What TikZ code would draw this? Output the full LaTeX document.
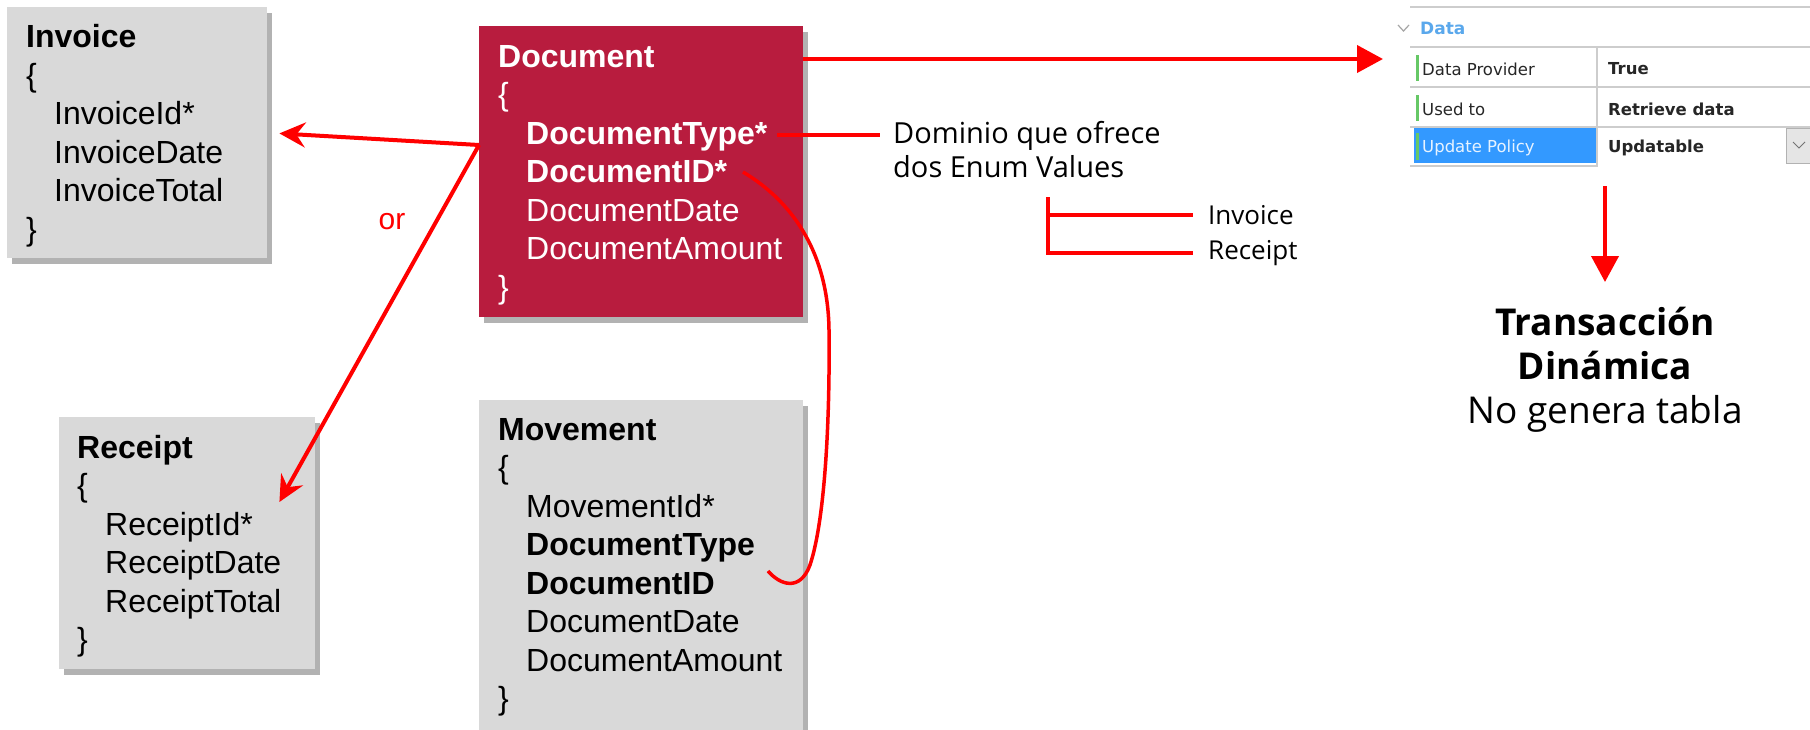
\documentclass[tikz,border=0pt]{standalone}
\usepackage{fontspec}
\setmainfont{Liberation Sans}
\newfontfamily\notefont{Open Sans}
\newfontfamily\gridfont{DejaVu Sans}
\usepackage{tikz}
\usetikzlibrary{arrows.meta,positioning,shadows}
\definecolor{DocRed}{RGB}{184,28,62}
\definecolor{BoxGray}{RGB}{217,217,217}
\definecolor{ArrowRed}{RGB}{255,0,0}
\definecolor{GridLine}{RGB}{205,205,205}
\definecolor{GridBlue}{RGB}{51,153,255}
\definecolor{DataBlue}{RGB}{90,168,236}
\definecolor{FlagGreen}{RGB}{102,200,102}
\newcommand{\attr}{\hspace*{28pt}}

\begin{document}
\begin{tikzpicture}[
    x=1pt, y=-1pt,
    entity/.style={anchor=north west, inner sep=0pt, fill=BoxGray, drop shadow={shadow xshift=5pt, shadow yshift=-6pt, fill=black, opacity=0.3}},
    fields/.style={inner sep=0pt, align=left, font=\fontsize{32}{38.5}\selectfont},
    arrow/.style={-{Stealth[length=26pt, width=25pt, inset=9pt]}, line width=4pt, ArrowRed},
    tri/.style={-{Triangle[length=26pt, width=27pt]}, line width=4pt, ArrowRed},
    redline/.style={line width=4pt, ArrowRed},
    note/.style={inner sep=0pt, align=left, font=\notefont\fontsize{29}{34}\selectfont},
    cell/.style={anchor=west, inner sep=0pt, text=black!85, font=\gridfont\fontsize{16.5}{20}\selectfont},
    val/.style={cell, font=\gridfont\bfseries\fontsize{16.5}{20}\selectfont},
    grid/.style={GridLine, line width=1.8pt}
]
    \path[use as bounding box, fill=white] (0,0) rectangle (1810,729);

    % transactions
    \node[entity, minimum width=260pt, minimum height=251pt] (inv) at (7,7) {};
    \node[entity, fill=DocRed, minimum width=324pt, minimum height=291pt] (doc) at (479,26) {};
    \node[entity, minimum width=256pt, minimum height=252pt] (rec) at (59,417) {};
    \node[entity, minimum width=324pt, minimum height=345pt] (mov) at (479,400) {};

    \node[fields, below right=13.5pt and 19pt of inv.north west] (invtxt)
        {\strut\textbf{Invoice}\\\{\\\attr InvoiceId*\\\attr InvoiceDate\\\attr InvoiceTotal\\\}};
    \node[fields, text=white, below right=14pt and 19pt of doc.north west] (doctxt)
        {\strut\textbf{Document}\\\{\\\attr\textbf{DocumentType*}\\\attr\textbf{DocumentID*}\\\attr DocumentDate\\\attr DocumentAmount\\\}};
    \node[fields, below right=14pt and 18pt of rec.north west] (rectxt)
        {\strut\textbf{Receipt}\\\{\\\attr ReceiptId*\\\attr ReceiptDate\\\attr ReceiptTotal\\\}};
    \node[fields, below right=13pt and 19pt of mov.north west] (movtxt)
        {\strut\textbf{Movement}\\\{\\\attr MovementId*\\\attr\textbf{DocumentType}\\\attr\textbf{DocumentID}\\\attr DocumentDate\\\attr DocumentAmount\\\}};

    % subtypes
    \coordinate[below=119pt of doc.north west] (fork);
    \coordinate[below left=85pt and 36pt of rec.north east] (rectip);
    \draw[arrow, shorten >=12pt] (fork) -- (inv.east);
    \draw[arrow] (fork) -- (rectip);
    \node[text=ArrowRed, font=\fontsize{30}{36}\selectfont] (orlbl) at (392,222) {or};

    % domain note
    \node[note, anchor=north west] (dom) at (893,119) {\strut Dominio que ofrece\\dos Enum Values};
    \coordinate (dtype) at (777,135);
    \draw[redline, shorten >=13pt] (dtype) -- (dtype -| dom.west);
    \node[note, anchor=west, font=\notefont\fontsize{26}{30}\selectfont] (enuminv) at (1208,215) {Invoice};
    \node[note, anchor=west, font=\notefont\fontsize{26}{30}\selectfont] (enumrec) at (1208,253) {Receipt};
    \coordinate (brtop) at (1048,197);
    \draw[redline, shorten >=15pt] (brtop |- enuminv.west) -- (enuminv.west);
    \draw[redline, shorten >=15pt] (brtop) |- (enumrec.west);

    % foreign key
    \coordinate (did) at (743,172);
    \coordinate (mid) at (768,571);
    \draw[redline, line width=3.5pt] (did) .. controls (790,200) and (828,250) .. (829,330)
        .. controls (830,420) and (825,520) .. (810,565) .. controls (800,592) and (780,585) .. (mid);

    % property grid
    \fill[GridBlue] (1414,127) rectangle (1597,163);
    \draw[grid] (1410,7) -- (1810,7);
    \draw[grid] (1410,47) -- (1810,47);
    \draw[grid] (1410,87) -- (1810,87);
    \draw[grid] (1410,127) -- (1810,127);
    \draw[grid] (1410,166) -- (1597,166);
    \draw[grid] (1597,47) -- (1597,167);
    \draw[fill=black!10, draw=black!30, line width=1pt] (1786,128) rectangle (1812,163);
    \draw[black!55, line width=1pt] (1793,142) -- (1799,148) -- (1805,142);
    \draw[black!35, line width=1.2pt] (1398,25) -- (1403.5,31) -- (1409,25);
    \foreach \ya/\yb in {55/81, 95/121, 133/160}
        \draw[FlagGreen, line width=3pt] (1417,\ya) -- (1417,\yb);
    \node[cell, text=DataBlue, font=\gridfont\bfseries\fontsize{17}{20}\selectfont] (datahdr) at (1420,28) {Data};
    \node[cell] (dpname) at (1422,69) {Data Provider};
    \node[cell] (usename) at (1422,109) {Used to};
    \node[cell, text=white!88!GridBlue] (updname) at (1422,148) {Update Policy};
    \node[val] (dpval) at (1608,69) {True};
    \node[val] (useval) at (1608,109) {Retrieve data};
    \node[val] (updval) at (1608,148) {Updatable};

    \coordinate[below=33pt of doc.north east] (docout);
    \coordinate (gridin) at (1383,59);
    \draw[tri] (docout) -- (gridin);

    % result
    \node[note, anchor=north, align=center, font=\notefont\fontsize{37}{44}\selectfont] (dyn) at (1605,304)
        {\strut\textbf{Transacción}\\\textbf{Dinámica}\\No genera tabla};
    \coordinate (gridout) at (1605,186);
    \draw[tri, shorten >=22pt] (gridout) -- (dyn.north);
\end{tikzpicture}
\end{document}
